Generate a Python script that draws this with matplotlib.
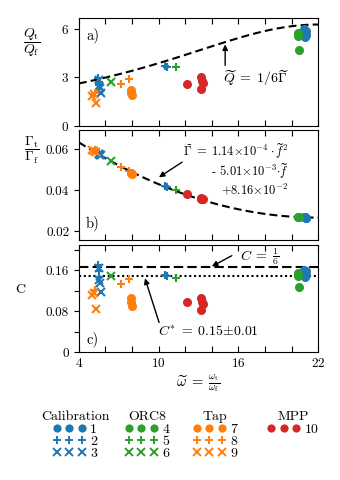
import numpy as np
import matplotlib
matplotlib.use("Agg")
import matplotlib.pyplot as plt
from matplotlib.lines import Line2D

plt.rcParams['font.family'] = 'serif'
plt.rcParams['font.serif'] = ['cmr10']
plt.rcParams['mathtext.fontset'] = 'cm'
plt.rcParams['axes.formatter.use_mathtext'] = True
plt.rcParams['font.size'] = 9

# fit coefficients printed on the chart: Gamma = a f^2 + b f + c
fit_coef = [1.14e-4, -5.01e-3, 8.16e-2]
C_theory = 1 / 6
C_star = 0.15

# series: x (omega ratio), Q ratio, Gamma ratio, C
series = {
    1: dict(x=[20.95, 21.0, 21.05, 21.0, 21.1], Q=[6.0, 5.8, 5.65, 5.5, 5.9],
            G=[0.0268, 0.0267, 0.0266, 0.0267, 0.0266], C=[0.160, 0.155, 0.151, 0.147, 0.158]),
    2: dict(x=[5.45, 5.5, 5.55, 10.5, 10.6], Q=[2.95, 2.75, 2.55, 3.7, 3.65],
            G=[0.0580, 0.0578, 0.0575, 0.0418, 0.0414], C=[0.170, 0.158, 0.147, 0.152, 0.149]),
    3: dict(x=[5.5, 5.55, 5.6, 5.65], Q=[2.85, 2.45, 2.35, 2.05],
            G=[0.0577, 0.0575, 0.0573, 0.0571], C=[0.164, 0.141, 0.135, 0.117]),
    4: dict(x=[20.5, 20.5, 20.55], Q=[5.75, 5.55, 4.71],
            G=[0.0271, 0.0271, 0.0270], C=[0.156, 0.150, 0.127]),
    5: dict(x=[11.3], Q=[3.64], G=[0.0400], C=[0.145]),
    6: dict(x=[6.45], Q=[2.72], G=[0.0545], C=[0.150]),
    7: dict(x=[7.9, 7.95, 8.0], Q=[2.2, 2.05, 1.9],
            G=[0.0485, 0.0483, 0.0481], C=[0.106, 0.099, 0.091]),
    8: dict(x=[5.2, 7.15, 7.75], Q=[2.05, 2.6, 2.9],
            G=[0.0592, 0.0512, 0.0494], C=[0.122, 0.133, 0.143]),
    9: dict(x=[5.0, 5.1, 5.25], Q=[1.85, 1.95, 1.45],
            G=[0.0598, 0.0594, 0.0588], C=[0.111, 0.116, 0.084]),
    10: dict(x=[12.15, 13.2, 13.25, 13.15, 13.3], Q=[2.58, 3.0, 2.8, 2.3, 2.65],
             G=[0.0380, 0.0358, 0.0356, 0.0360, 0.0355], C=[0.098, 0.106, 0.099, 0.083, 0.094]),
}

blue, green, orange, red = '#1f77b4', '#2ca02c', '#ff7f0e', '#d62728'
style = {
    1: (blue, 'o'), 2: (blue, '+'), 3: (blue, 'x'),
    4: (green, 'o'), 5: (green, '+'), 6: (green, 'x'),
    7: (orange, 'o'), 8: (orange, '+'), 9: (orange, 'x'),
    10: (red, 'o'),
}
groups = [('Calibration', [1, 2, 3]), ('ORC8', [4, 5, 6]), ('Tap', [7, 8, 9]), ('MPP', [10])]

fig = plt.figure(figsize=(3.4, 4.8), dpi=100)
ax_a = fig.add_axes([0.232, 0.7375, 0.704, 0.225])
ax_b = fig.add_axes([0.232, 0.5, 0.704, 0.229])
ax_c = fig.add_axes([0.232, 0.2667, 0.704, 0.2229])

xf = np.linspace(4, 22, 200)
gfit = np.polyval(fit_coef, xf)

ax_a.plot(xf, 1 / (6 * gfit), 'k', ls=(0, (3.8, 2)), lw=1.5, zorder=1)
ax_b.plot(xf, gfit, 'k', ls=(0, (3.8, 2)), lw=1.5, zorder=1)
ax_c.axhline(C_theory, color='k', ls=(0, (4.5, 2)), lw=1.5, zorder=1)
ax_c.axhline(C_star, color='k', ls=(0, (1, 1.3)), lw=1.5, zorder=1)

for k, d in series.items():
    col, m = style[k]
    ms = 5 if m == 'o' else 6
    for ax, key in [(ax_a, 'Q'), (ax_b, 'G'), (ax_c, 'C')]:
        ax.plot(d['x'], d[key], ls='none', marker=m, color=col, ms=ms, mew=1.5, zorder=3)

for ax in [ax_a, ax_b, ax_c]:
    ax.set_xlim(4, 22)
    ax.set_xticks([4, 10, 16, 22])
    ax.set_xticks(np.arange(4, 23, 2), minor=True)
    ax.tick_params(axis='x', which='both', direction='in', top=True, length=4, width=0.8)
    ax.tick_params(axis='y', which='both', direction='out', length=3.5, width=0.8)
    ax.tick_params(labelsize=9.5)
ax_a.tick_params(axis='x', labelbottom=False)
ax_b.tick_params(axis='x', labelbottom=False)

ax_a.set_ylim(0, 6.68)
ax_a.set_yticks([0, 3, 6])
ax_b.set_ylim(0.0156, 0.0694)
ax_b.set_yticks([0.02, 0.04, 0.06])
ax_b.set_yticklabels(['0.02', '0.04', '0.06'])
ax_c.set_ylim(0, 0.21)
ax_c.set_yticks([0, 0.08, 0.16])
ax_c.set_yticklabels(['0', '0.08', '0.16'])
ax_c.set_yticks([0.04, 0.12, 0.20], minor=True)

ax_a.set_ylabel(r'$\dfrac{Q_\mathrm{t}}{Q_\mathrm{f}}$', rotation=0, fontsize=10)
ax_a.yaxis.set_label_coords(-0.197, 0.62)
ax_b.set_ylabel(r'$\dfrac{\Gamma_\mathrm{t}}{\Gamma_\mathrm{f}}$', rotation=0, fontsize=10)
ax_b.yaxis.set_label_coords(-0.197, 0.67)
ax_c.set_ylabel('C', rotation=0, fontsize=10)
ax_c.yaxis.set_label_coords(-0.247, 0.52)
ax_c.set_xlabel(r'$\widetilde{\omega}\;=\;\frac{\omega_\mathrm{t}}{\omega_\mathrm{f}}$', fontsize=10.5, labelpad=2)

ax_a.text(0.03, 0.84, 'a)', transform=ax_a.transAxes, fontsize=10.5, va='center')
ax_b.text(0.03, 0.155, 'b)', transform=ax_b.transAxes, fontsize=10.5, va='center')
ax_c.text(0.03, 0.12, 'c)', transform=ax_c.transAxes, fontsize=10.5, va='center')

arrow = dict(arrowstyle='-|>', color='k', lw=1.0, mutation_scale=8, shrinkA=0, shrinkB=0)
ax_a.annotate('', xy=(15.0, 5.05), xytext=(15.0, 3.75), arrowprops=arrow)
ax_a.text(14.85, 2.97, r'$\widetilde{Q}\;=\;1/6\widetilde{\Gamma}$', fontsize=10, va='center')

ax_b.annotate('', xy=(10.02, 0.0463), xytext=(11.76, 0.0537), arrowprops=arrow)
ax_b.text(19.74, 0.0638,
          r'$\widetilde{\Gamma}\;=\;1.14{\times}10^{-4}\cdot\widetilde{f}^2$' + '\n'
          + r'- $5.01{\times}10^{-3}{\cdot}\widetilde{f}$' + '\n'
          + r'$+8.16{\times}10^{-2}$',
          fontsize=9, ha='right', va='top', multialignment='right', linespacing=1.05)

ax_c.annotate('', xy=(14.0, 0.168), xytext=(15.5, 0.189), arrowprops=arrow)
ax_c.text(16.12, 0.1875, r'$C\;=\;\frac{1}{6}$', fontsize=10, va='center')
ax_c.annotate('', xy=(8.97, 0.1445), xytext=(10.03, 0.058), arrowprops=arrow)
ax_c.text(9.95, 0.0387, r'$C^{*}\;=\;0.15{\pm}0.01$', fontsize=10, va='center')

# grouped legends below the panels
centers = [75, 147, 215, 293]
for (title, keys), cx in zip(groups, centers):
    handles = []
    labels = []
    for k in keys:
        col, m = style[k]
        handles.append(Line2D([], [], ls='none', marker=m, color=col,
                              ms=4.5 if m == 'o' else 5.5, mew=1.4))
        labels.append(str(k))
    leg = fig.legend(handles, labels, title=title, loc='upper center',
                     bbox_to_anchor=(cx / 340, 1 - 404 / 480), frameon=False,
                     numpoints=3, handlelength=2.4, handletextpad=0.3,
                     labelspacing=-0.05, borderpad=0, fontsize=10, title_fontsize=10)
    leg._legend_box.sep = 0

fig.savefig('out.png', dpi=100)
